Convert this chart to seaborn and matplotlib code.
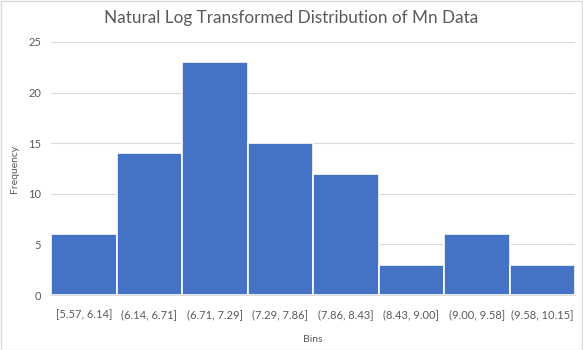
import matplotlib
matplotlib.use("Agg")
import matplotlib.pyplot as plt
import seaborn as sns
import pandas as pd

bins = ["[5.57, 6.14]", "(6.14, 6.71]", "(6.71, 7.29]", "(7.29, 7.86]",
        "(7.86, 8.43]", "(8.43, 9.00]", "(9.00, 9.58]", "(9.58, 10.15]"]
frequency = [6, 14, 23, 15, 12, 3, 6, 3]

sns.set_theme(style="white")
plt.rcParams["font.family"] = ["Lato", "DejaVu Sans"]

df = pd.DataFrame({"Bins": bins, "Frequency": frequency})

fig = plt.figure(figsize=(5.83, 3.5), dpi=100)
ax = fig.add_axes([0.0875, 0.157, 0.899, 0.723])

sns.barplot(data=df, x="Bins", y="Frequency", color="#4472C4", saturation=1,
            width=1.0, edgecolor="white", linewidth=1.2, ax=ax, zorder=3)

ax.set_ylim(0, 25)
ax.set_yticks(range(0, 26, 5))
ax.set_xlim(-0.5, len(bins) - 0.5)
ax.yaxis.grid(True, color="#d9d9d9", linewidth=0.8, zorder=0)
ax.set_axisbelow(True)
for side in ["top", "right", "left"]:
    ax.spines[side].set_visible(False)
ax.spines["bottom"].set_color("#d9d9d9")

ax.tick_params(axis="x", length=0, labelsize=8, colors="#595959", pad=10)
ax.tick_params(axis="y", length=0, labelsize=8, colors="#595959", pad=7)
ax.set_xlabel("Bins", fontsize=7.5, color="#595959", labelpad=11)
ax.set_ylabel("Frequency", fontsize=7.5, color="#595959", labelpad=7)

# Chart title centred on the whole figure
fig.suptitle("Natural Log Transformed Distribution of Mn Data",
             x=0.5, y=0.95, va="center", fontsize=12.3, color="#595959")

border = plt.Rectangle((0.001, 0.001), 0.997, 0.996, transform=fig.transFigure,
                       fill=False, edgecolor="#d9d9d9", linewidth=1)
fig.patches.append(border)

fig.savefig("out.png", dpi=100)
